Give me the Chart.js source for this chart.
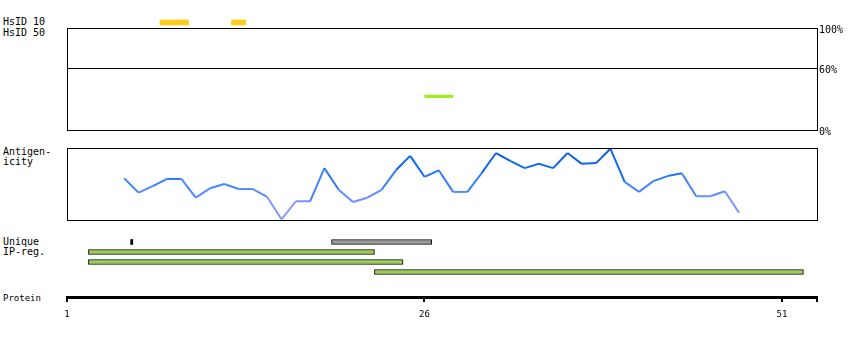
<!DOCTYPE html>
<html>
<head>
<meta charset="utf-8">
<script src="https://cdn.jsdelivr.net/npm/chart.js@4"></script>
<style>
  body { margin: 0; background: #fff; }
  #wrap { position: relative; width: 850px; height: 340px; background: #fff; font: 10px "DejaVu Sans Mono", monospace; color: #000; }
  #wrap canvas { position: absolute; left: 0; }
  .lbl { position: absolute; left: 3px; line-height: 10px; white-space: pre; }
</style>
</head>
<body>
<div id="wrap">
  <div class="lbl" style="top:17px">HsID 10</div>
  <div class="lbl" style="top:28px">HsID 50</div>
  <div class="lbl" style="top:147px">Antigen-</div>
  <div class="lbl" style="top:157px">icity</div>
  <div class="lbl" style="top:237px">Unique</div>
  <div class="lbl" style="top:247px">IP-reg.</div>
  <div class="lbl" style="top:293px;font-size:9px">Protein</div>
  <canvas id="hsid10" width="850" height="15" style="top:15px"></canvas>
  <canvas id="hsid50" width="850" height="120" style="top:20px"></canvas>
  <canvas id="antigen" width="850" height="90" style="top:140px"></canvas>
  <canvas id="regions" width="850" height="40" style="top:237px"></canvas>
  <canvas id="protein" width="850" height="45" style="top:285px"></canvas>
</div>
<script>
// protein range (residues)
const xMin = 1;
const xMax = 53.45;
const proteinTicks = [1, 26, 51];

// HsID 10 hits [start, end]
const hsid10 = [[7.5, 9.5], [12.5, 13.5]];
// HsID 50 hits: [start, end], identity %
const hsid50 = [[26, 28]];
const hsid50Identity = [33];
const identityTicks = [0, 60, 100];

// antigenicity profile, residue 5 onwards
const antigenStart = 5;
const antigenicity = [
  0.58, 0.38, 0.47, 0.57, 0.57, 0.31, 0.44, 0.50, 0.43, 0.43,
  0.32, 0.01, 0.26, 0.26, 0.72, 0.42, 0.25, 0.31, 0.42, 0.69,
  0.89, 0.60, 0.69, 0.39, 0.39, 0.65, 0.93, 0.82, 0.72, 0.78,
  0.72, 0.93, 0.78, 0.79, 0.99, 0.53, 0.39, 0.54, 0.61, 0.65,
  0.33, 0.33, 0.40, 0.10
];

// unique regions and IP regions [start, end]
const uniqueMarks = [[5.45, 5.6]];
const uniqueRegions = [[19.5, 26.5]];
const ipRegions = [[2.5, 22.5], [2.5, 24.5], [22.5, 52.5]];

const FONT = { family: 'DejaVu Sans Mono', size: 10 };

const framePlugin = {
    id: 'frame',
    afterDraw(chart) {
        const a = chart.chartArea;
        const ctx = chart.ctx;
        ctx.save();
        ctx.strokeStyle = '#000';
        ctx.lineWidth = 1;
        ctx.strokeRect(Math.round(a.left) + 0.5, Math.round(a.top) + 0.5,
            Math.round(a.right - a.left), Math.round(a.bottom - a.top));
        ctx.restore();
    }
};

const hiddenX = { type: 'linear', min: xMin, max: xMax, display: false };
const baseOptions = {
    responsive: false,
    animation: false,
    plugins: { legend: { display: false }, tooltip: { enabled: false } }
};

// HsID 10 strip
new Chart(document.getElementById('hsid10'), {
    type: 'bar',
    data: {
        labels: ['HsID 10'],
        datasets: [{
            data: hsid10.map(r => ({ x: r, y: 'HsID 10' })),
            backgroundColor: '#ffcc1a',
            barThickness: 5,
            grouped: false
        }]
    },
    options: Object.assign({}, baseOptions, {
        indexAxis: 'y',
        layout: { padding: { left: 67, right: 33 } },
        scales: { x: hiddenX, y: { display: false } }
    })
});

// HsID 50 box
new Chart(document.getElementById('hsid50'), {
    type: 'line',
    data: {
        datasets: hsid50.map((r, i) => ({
            data: [{ x: r[0], y: hsid50Identity[i] }, { x: r[1], y: hsid50Identity[i] }],
            borderColor: '#99ee11',
            borderWidth: 3,
            pointRadius: 0
        }))
    },
    options: Object.assign({}, baseOptions, {
        layout: { padding: { left: 67, top: 8, bottom: 10 } },
        scales: {
            x: hiddenX,
            y: {
                position: 'right',
                min: 0, max: 100,
                afterFit: s => { s.width = 33; },
                afterBuildTicks: s => { s.ticks = identityTicks.map(v => ({ value: v })); },
                grid: { color: '#000', drawTicks: false },
                border: { display: true, color: '#000' },
                ticks: { color: '#000', font: FONT, padding: 2, labelOffset: 2, callback: v => v + '%' }
            }
        }
    }),
    plugins: [framePlugin]
});

// antigenicity line
function antigenColor(v) {
    const stops = [
        [0.0, [165, 160, 255]],
        [0.4, [85, 140, 255]],
        [0.7, [20, 110, 240]],
        [1.0, [0, 90, 205]]
    ];
    for (let i = 1; i < stops.length; i++) {
        if (v <= stops[i][0]) {
            const a = stops[i - 1], b = stops[i];
            const t = (v - a[0]) / (b[0] - a[0]);
            const c = a[1].map((c0, k) => Math.round(c0 + (b[1][k] - c0) * t));
            return 'rgb(' + c.join(',') + ')';
        }
    }
    return 'rgb(0,90,205)';
}

new Chart(document.getElementById('antigen'), {
    type: 'line',
    data: {
        datasets: [{
            data: antigenicity.map((v, i) => ({ x: antigenStart + i, y: v })),
            borderWidth: 2,
            pointRadius: 0,
            tension: 0,
            segment: {
                borderColor: ctx => antigenColor((ctx.p0.parsed.y + ctx.p1.parsed.y) / 2)
            }
        }]
    },
    options: Object.assign({}, baseOptions, {
        layout: { padding: { left: 67, right: 33, top: 8, bottom: 10 } },
        scales: { x: hiddenX, y: { display: false, min: 0, max: 1 } }
    }),
    plugins: [framePlugin]
});

// unique / IP regions
const rows = ['Unique', 'IP1', 'IP2', 'IP3'];
new Chart(document.getElementById('regions'), {
    type: 'bar',
    data: {
        labels: rows,
        datasets: [
            {
                data: uniqueMarks.map(r => ({ x: r, y: 'Unique' })),
                backgroundColor: '#000',
                barThickness: 5,
                grouped: false
            },
            {
                data: uniqueRegions.map(r => ({ x: r, y: 'Unique' })),
                backgroundColor: '#999999',
                borderColor: '#000',
                borderWidth: 1,
                borderSkipped: false,
                barThickness: 5,
                grouped: false
            },
            {
                data: ipRegions.map((r, i) => ({ x: r, y: rows[i + 1] })),
                backgroundColor: '#99cc55',
                borderColor: '#000',
                borderWidth: 1,
                borderSkipped: false,
                barThickness: 5,
                grouped: false
            }
        ]
    },
    options: Object.assign({}, baseOptions, {
        indexAxis: 'y',
        layout: { padding: { left: 67, right: 33 } },
        scales: { x: hiddenX, y: { display: false } }
    })
});

// protein axis
new Chart(document.getElementById('protein'), {
    type: 'line',
    data: { datasets: [{ data: [] }] },
    options: Object.assign({}, baseOptions, {
        layout: { padding: { left: 67, right: 33 } },
        scales: {
            x: {
                type: 'linear', min: xMin, max: xMax,
                afterFit: s => { s.height = 33; },
                afterBuildTicks: s => { s.ticks = proteinTicks.concat([xMax]).map(v => ({ value: v })); },
                border: { display: true, color: '#000', width: 3 },
                grid: { drawOnChartArea: false, color: '#000', lineWidth: 2, tickLength: 5 },
                ticks: {
                    color: '#000', font: { family: 'DejaVu Sans Mono', size: 9 }, padding: 7,
                    maxRotation: 0, autoSkip: false,
                    callback: v => proteinTicks.includes(v) ? String(v) : ''
                }
            },
            y: { display: false }
        }
    })
});
</script>
</body>
</html>
